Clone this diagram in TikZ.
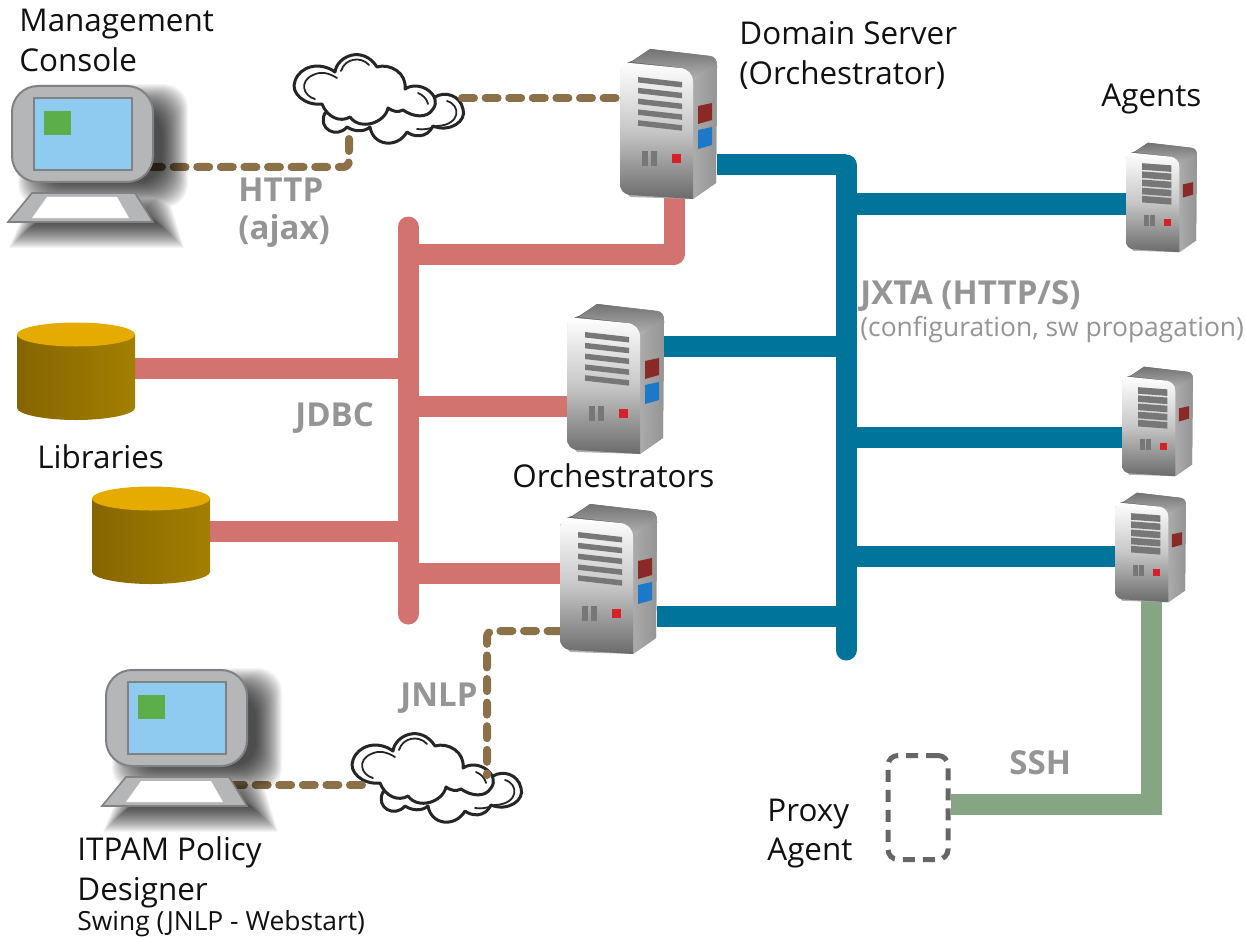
\documentclass[tikz,border=0pt]{standalone}
\usepackage{fontspec}
\setmainfont{Open Sans}
\definecolor{tealc}{HTML}{00749A}
\definecolor{pinkc}{HTML}{D2736F}
\definecolor{greenc}{HTML}{86A583}
\definecolor{brownc}{HTML}{8B7048}
\definecolor{labelc}{HTML}{959595}
\definecolor{textc}{HTML}{111111}
\definecolor{cyltop}{HTML}{E5AB00}
\definecolor{cylL}{HTML}{866500}
\definecolor{cylR}{HTML}{A37F00}
\definecolor{srvred}{HTML}{8A2A26}
\definecolor{srvblue}{HTML}{1E78C8}
\definecolor{btnred}{HTML}{D8202A}
\definecolor{barc}{HTML}{777777}
\definecolor{monc}{HTML}{B5B6B8}
\definecolor{monedge}{HTML}{7F8184}
\definecolor{scrc}{HTML}{8FCBF0}
\definecolor{grnc}{HTML}{5BAE4A}
\tikzset{
  tealline/.style={draw=tealc,line width=10.5pt,line join=round},
  pinkline/.style={draw=pinkc,line width=10.5pt,line join=round},
  greenline/.style={draw=greenc,line width=10.5pt},
  brownline/.style={draw=brownc,line width=4pt,line cap=round,dash pattern=on 6pt off 5.8pt,rounded corners=3pt},
  txt/.style={anchor=base west,inner sep=0pt,yshift=-.8pt,text=textc,font=\fontsize{15.7pt}{18pt}\selectfont},
  smalltxt/.style={anchor=base west,inner sep=0pt,yshift=-.4pt,text=textc,font=\fontsize{13.2pt}{15pt}\selectfont},
  grey/.style={anchor=base west,inner sep=0pt,yshift=-.5pt,text=labelc,font=\fontsize{16.5pt}{19pt}\selectfont\bfseries},
  greysm/.style={anchor=base west,inner sep=0pt,yshift=-.5pt,text=labelc,font=\fontsize{13.2pt}{15pt}\selectfont},
  server/.pic={
    \path[top color=black!62,bottom color=black!30] (0,22) .. controls (3,16) and (8,14) .. (12,13) -- (30,1) -- (90,8) .. controls (95,9) and (97,12) .. (97,18) -- (96,135) -- (73,151) -- (10,149) -- (0,139) -- cycle;
    \path[left color=black!28,right color=black!42] (60,20) -- (90,8) .. controls (95,9) and (97,12) .. (97,18) -- (96,135) -- (73,151) -- cycle;
    \path[top color=black!55,bottom color=black!30] (12,14) -- (30,1) -- (90,8) .. controls (94,9) and (96,11) .. (97,16) -- (75,32) -- (63,20) -- cycle;
    \path[top color=white,bottom color=black!58,middle color=black!22]
      (0,24) .. controls (0,18) and (3,14) .. (10,15) -- (60,20) .. controls (68,21) and (73,26) .. (73,34) -- (73,151) -- (10,147) .. controls (4,146) and (0,143) .. (0,135) -- cycle;
    \fill[btnred] (52,106) rectangle (61,115);
    \fill[srvred] (78,58) -- (92,55) -- (92,72) -- (78,76) -- cycle;
  },
  bigdetail/.pic={
    \foreach \i in {0,1,2,3,4}
      \fill[barc] (18,29+\i*10.8) -- (62,34+\i*10.8) -- (62,39.5+\i*10.8) -- (18,34.5+\i*10.8) -- cycle;
    \fill[barc] (22,103) rectangle (27.5,118);
    \fill[barc] (31,103) rectangle (37,118);
    \fill[srvblue] (78,82) -- (92,79) -- (92,97) -- (78,101) -- cycle;
  },
  agentdetail/.pic={
    \foreach \i in {0,1,2,3,4}
      \fill[barc] (22,29+\i*11.2) -- (62,32+\i*11.2) -- (62,41+\i*11.2) -- (22,38+\i*11.2) -- cycle;
    \fill[barc] (24,100) rectangle (31.5,115);
    \fill[barc] (33,100) rectangle (40,115);
  },
  monitor/.pic={
    \foreach \e in {16,15,...,-10}
      \fill[black,opacity=.04]
        [rounded corners=12pt] (34-\e,100-\e) -- (172+\e,100-\e) -- (172+\e,192+\e) -- (34-\e,192+\e) -- cycle
        [rounded corners=0pt] (50-\e,205-\e) -- (150+\e,205-\e) -- (168+\e,232+\e) -- (25-\e,232+\e) -- cycle;
    \draw[fill=monc,draw=monedge,line width=1pt,rounded corners=13pt] (12,86) rectangle (153,182);
    \draw[fill=scrc,draw=monedge,line width=1.1pt] (34,98) rectangle (132,170);
    \fill[grnc] (44,111) rectangle (71,135);
    \draw[fill=monc,draw=monedge,line width=.8pt] (32,193) -- (135,193) -- (153,222) -- (8,222) -- cycle;
    \fill[white] (47,197) -- (117,197) -- (129,218) -- (32,218) -- cycle;
  },
  cloudshape/.pic={
    \begin{scope}[line width=1.5pt,draw=black!85,fill=white,line join=round,line cap=round]
    \path[draw,fill] (30,62) .. controls (22,78) and (42,88) .. (52,76) .. controls (58,80) and (68,82) .. (75,76) .. controls (78,95) and (102,98) .. (112,81) .. controls (118,86) and (132,88) .. (138,75) .. controls (155,82) and (172,70) .. (168,58) .. controls (165,44) and (150,40) .. (140,46) -- (100,50) -- cycle;
    \path[draw,fill] (40,21) .. controls (42,5) and (68,-6) .. (82,16) .. controls (95,12) and (112,22) .. (110,38) .. controls (125,28) and (148,45) .. (138,58) .. controls (132,68) and (118,66) .. (108,59) .. controls (103,62) and (97,60) .. (93,57) .. controls (90,72) and (65,80) .. (55,66) .. controls (45,72) and (32,66) .. (27,53) .. controls (10,55) and (-5,42) .. (0,30) .. controls (5,15) and (25,10) .. (40,21) -- cycle;
    \begin{scope}[line width=.9pt]
    \draw (20,48) .. controls (8,45) and (4,30) .. (18,24) .. controls (26,20) and (34,22) .. (42,27);
    \draw (46,20) .. controls (50,7) and (66,5) .. (74,14);
    \draw (123,42) .. controls (128,44) and (132,48) .. (133,53);
    \draw (152,50) .. controls (166,54) and (166,74) .. (142,75);
    \draw (142,75) .. controls (135,78) and (128,79) .. (122,78);
    \end{scope}
    \end{scope}
  },
  cylinder/.pic={
    \path[left color=cylL,right color=cylR] (0,12) -- (118,12) -- (118,85) .. controls (118,91) and (92,97) .. (59,97) .. controls (26,97) and (0,91) .. (0,85) -- cycle;
    \fill[cyltop] (59,11.5) ellipse [x radius=59,y radius=12];
  }
}
\begin{document}
\begin{tikzpicture}[x=0.5pt,y=-0.5pt]
\useasboundingbox (0,0) rectangle (1245,936);
\fill[white] (0,0) rectangle (1245,936);

\node[inner sep=0pt,minimum width=48.5pt,minimum height=75pt] (domain) at (668.5,123) {};
\node[inner sep=0pt,minimum width=48.5pt,minimum height=75pt] (orchA) at (615.5,378) {};
\node[inner sep=0pt,minimum width=48.5pt,minimum height=75pt] (orchB) at (608.5,579) {};
\node[inner sep=0pt,minimum width=35pt,minimum height=52pt] (agentA) at (1162,195) {};
\node[inner sep=0pt,minimum width=35pt,minimum height=52pt] (agentB) at (1158,419) {};
\node[inner sep=0pt,minimum width=35pt,minimum height=52pt] (agentC) at (1151,545) {};
\node[inner sep=0pt,minimum width=59pt,minimum height=48pt] (libA) at (76,371) {};
\node[inner sep=0pt,minimum width=59pt,minimum height=48pt] (libB) at (151,535) {};
\node[inner sep=0pt,minimum width=70pt,minimum height=50pt] (consoleA) at (80,135) {};
\node[inner sep=0pt,minimum width=70pt,minimum height=50pt] (consoleB) at (174,719) {};
\node[inner sep=0pt,minimum width=84pt,minimum height=46pt] (cloudA) at (380,97) {};
\node[inner sep=0pt,minimum width=84pt,minimum height=46pt] (cloudB) at (438,776) {};
\node[draw=black!60,line width=2.5pt,dash pattern=on 6pt off 4pt,rounded corners=5pt,inner sep=0pt,minimum width=30pt,minimum height=52pt] (proxy) at (918,807.5) {};

\coordinate (tealTop) at (846,165);
\coordinate (tealBot) at (846,650);
\coordinate (pinkTop) at (408,227);
\coordinate (pinkBot) at (408,614);
\coordinate (jDomain) at (846,165);
\coordinate (jAgentA) at (846,204);
\coordinate (jOrchA) at (846,346);
\coordinate (jAgentB) at (846,437);
\coordinate (jAgentC) at (846,556);
\coordinate (jOrchB) at (846,616);
\coordinate (pDomain) at (408,254);
\coordinate (pLibA) at (408,368);
\coordinate (pOrchA) at (408,406);
\coordinate (pLibB) at (408,531);
\coordinate (pOrchB) at (408,573);
\coordinate (sshCorner) at (1151,804);
\coordinate (httpCorner) at (349,167);
\coordinate (jnlpCorner) at (487,631);
\coordinate (pinkCorner) at (674,254);

\draw[tealline,line cap=round] (tealTop) -- (tealBot);
\draw[tealline] (domain.east |- jDomain) -- (jDomain);
\draw[tealline] (jAgentA) -- (agentA.west |- jAgentA);
\draw[tealline] (orchA.east |- jOrchA) -- (jOrchA);
\draw[tealline] (jAgentB) -- (agentB.west |- jAgentB);
\draw[tealline] (jAgentC) -- (agentC.west |- jAgentC);
\draw[tealline] (orchB.east |- jOrchB) -- (jOrchB);
\draw[pinkline,line cap=round] (pinkTop) -- (pinkBot);
\draw[pinkline] (domain.south -| pinkCorner) -- (pinkCorner) -- (pDomain);
\draw[pinkline] (libA.east |- pLibA) -- (pLibA);
\draw[pinkline] (pOrchA) -- (orchA.west |- pOrchA);
\draw[pinkline] (libB.east |- pLibB) -- (pLibB);
\draw[pinkline] (pOrchB) -- (orchB.west |- pOrchB);
\draw[greenline] (agentC.south -| sshCorner) -- (sshCorner) -- (proxy.east |- sshCorner);

\pic at (295,51) {cloudshape};
\pic at (353,730) {cloudshape};

\draw[brownline] (150,167) -- (httpCorner) -- (349,131);
\draw[brownline] (462,98) -- (domain.west |- 0,98);
\draw[brownline] (232,785) -- (372,785);
\draw[brownline] (orchB.west |- jnlpCorner) -- (jnlpCorner) -- (487,775);

\pic at (620,48) {server};
\pic at (620,48) {bigdetail};
\pic at (567,303) {server};
\pic at (567,303) {bigdetail};
\pic at (560,503) {server};
\pic at (560,503) {bigdetail};
\pic[scale=.73] at (1126,142) {server};
\pic[scale=.73] at (1126,142) {agentdetail};
\pic[scale=.73] at (1122,366) {server};
\pic[scale=.73] at (1122,366) {agentdetail};
\pic[scale=.73] at (1115,492) {server};
\pic[scale=.73] at (1115,492) {agentdetail};
\pic at (17,323) {cylinder};
\pic at (92,487) {cylinder};
\pic at (0,0) {monitor};
\pic at (94,584) {monitor};

\node[txt] (t1) at (19,30) {Management};
\node[txt] (t2) at (19,70) {Console};
\node[txt] (t3) at (739,43) {Domain Server};
\node[txt] (t4) at (739,83) {(Orchestrator)};
\node[txt] (t5) at (1101,105) {Agents};
\node[txt] (t6) at (37,467) {Libraries};
\node[txt] (t7) at (512,486) {Orchestrators};
\node[txt] (t8) at (77,859) {ITPAM Policy};
\node[txt] (t9) at (77,899) {Designer};
\node[smalltxt] (t10) at (77,930) {Swing (JNLP - Webstart)};
\node[txt] (t11) at (767,820) {Proxy};
\node[txt] (t12) at (767,859) {Agent};
\node[grey] (g1) at (238,200) {HTTP};
\node[grey] (g2) at (238,238) {(ajax)};
\node[grey] (g3) at (295,425) {JDBC};
\node[grey] (g4) at (400,705) {JNLP};
\node[grey] (g5) at (1009,773) {SSH};
\node[grey] (g6) at (860,303) {JXTA (HTTP/S)};
\node[greysm] (g7) at (860,335) {(configuration, sw propagation)};
\end{tikzpicture}
\end{document}
